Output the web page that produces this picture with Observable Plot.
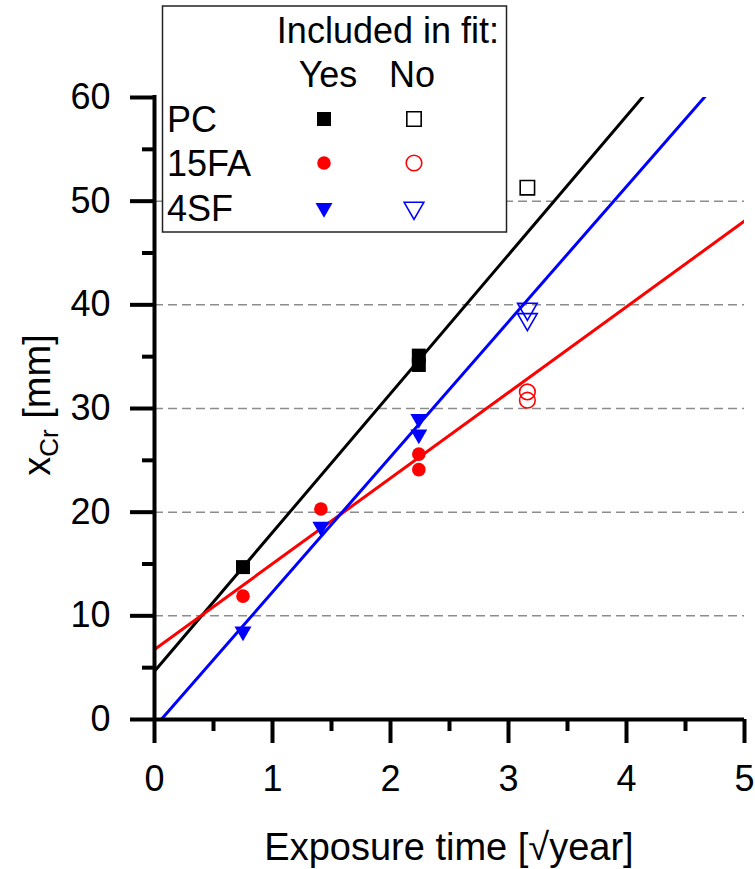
<!DOCTYPE html>
<html><head><meta charset="utf-8">
<script src="https://cdn.jsdelivr.net/npm/d3@7"></script>
<script src="https://cdn.jsdelivr.net/npm/@observablehq/plot@0.6"></script>
<style>html,body{margin:0;padding:0;background:#fff;} svg{display:block;}</style>
</head><body><div id="chart"></div>
<script>
// ---- data ----
const xTicks = [0, 1, 2, 3, 4, 5];
const xMinor = [0.5, 1.5, 2.5, 3.5, 4.5];
const yTicks = [0, 10, 20, 30, 40, 50, 60];
const yMinor = [5, 15, 25, 35, 45, 55];
const gridY = [10, 20, 30, 40, 50];
const xDomain = [0, 5];
const yDomain = [0, 60];

const seriesNames = ["PC", "15FA", "4SF"];
const seriesColors = ["#000000", "#ff0000", "#0000ff"];

// PC
const pcYesX = [0.75, 2.24, 2.24];
const pcYesY = [14.7, 34.2, 35.1];
const pcNoX = [3.16];
const pcNoY = [51.3];
// 15FA
const faYesX = [0.75, 1.41, 2.24, 2.24];
const faYesY = [11.9, 20.3, 25.6, 24.1];
const faNoX = [3.16, 3.16];
const faNoY = [31.6, 30.8];
// 4SF
const sfYesX = [0.75, 1.41, 2.24, 2.24];
const sfYesY = [8.5, 18.6, 29.0, 27.5];
const sfNoX = [3.16, 3.16];
const sfNoY = [39.6, 38.6];

const legendTitle = "Included in fit:";
const legendYes = "Yes";
const legendNo = "No";
const xLabel = "Exposure time [\u221Ayear]";

// ---- helpers ----
const sqrt3 = Math.sqrt(3);
const triDown = {
  draw(ctx, size) {
    const y = -Math.sqrt(size / (sqrt3 * 3));
    ctx.moveTo(0, -y * 2);
    ctx.lineTo(-sqrt3 * y, y);
    ctx.lineTo(sqrt3 * y, y);
    ctx.closePath();
  }
};
const symbols = [d3.symbolSquare, d3.symbolCircle, triDown];
const radiiYes = [7.9, 6.8, 6.3];
const radiiNo = [8.1, 7.8, 7.3];

function fit(xs, ys) {
  const mx = d3.mean(xs), my = d3.mean(ys);
  const sxy = d3.sum(xs, (x, i) => (x - mx) * (ys[i] - my));
  const sxx = d3.sum(xs, x => (x - mx) ** 2);
  const b = sxy / sxx;
  return {a: my - b * mx, b};
}

const yesSets = [[pcYesX, pcYesY], [faYesX, faYesY], [sfYesX, sfYesY]];
const noSets = [[pcNoX, pcNoY], [faNoX, faNoY], [sfNoX, sfNoY]];

const marks = [];
// grid
marks.push(Plot.ruleY(gridY, {x1: xDomain[0], x2: xDomain[1], stroke: "#8c8c8c", strokeWidth: 1.5, strokeDasharray: "9,5"}));
// fit lines
seriesNames.forEach((name, i) => {
  const [xs, ys] = yesSets[i];
  const {a, b} = fit(xs, ys);
  const pts = xDomain.map(x => ({x, y: a + b * x}));
  marks.push(Plot.line(pts, {x: "x", y: "y", stroke: seriesColors[i], strokeWidth: 3, clip: true}));
});
// points
seriesNames.forEach((name, i) => {
  const [xs, ys] = yesSets[i];
  const [nx, ny] = noSets[i];
  const yes = xs.map((x, j) => ({x, y: ys[j]}));
  const no = nx.map((x, j) => ({x, y: ny[j]}));
  marks.push(Plot.dot(yes, {x: "x", y: "y", symbol: symbols[i], r: radiiYes[i], fill: seriesColors[i], stroke: "none"}));
  marks.push(Plot.dot(no, {x: "x", y: "y", symbol: symbols[i], r: radiiNo[i], fill: "none", stroke: seriesColors[i], strokeWidth: 1.6}));
});
// axes
marks.push(Plot.axisX(xTicks, {tickSize: 24, tickPadding: 22, strokeWidth: 4, tickFormat: d3.format("d"), label: null}));
marks.push(Plot.axisX(xMinor, {tickSize: 12, tickFormat: () => "", strokeWidth: 4, label: null}));
marks.push(Plot.axisY(yTicks, {tickSize: 24, tickPadding: 20, strokeWidth: 4, tickFormat: d3.format("d"), label: null}));
marks.push(Plot.axisY(yMinor, {tickSize: 12, tickFormat: () => "", strokeWidth: 4, label: null}));
marks.push(Plot.ruleX([xDomain[0]], {y1: yDomain[0], y2: yDomain[1], strokeWidth: 4, strokeLinecap: "square"}));
marks.push(Plot.ruleY([yDomain[0]], {x1: xDomain[0], x2: xDomain[1], strokeWidth: 4}));

const chart = Plot.plot({
  width: 755,
  height: 869,
  marginTop: 97,
  marginBottom: 150,
  marginLeft: 154,
  marginRight: 11,
  x: {domain: xDomain, label: null},
  y: {domain: yDomain, label: null},
  style: {fontFamily: "'Liberation Sans', Arial, sans-serif", fontSize: "36px", background: "#fff", color: "#000"},
  marks
});

const svg = d3.select(chart);
const font = "'Liberation Sans', Arial, sans-serif";

// axis titles
svg.append("text")
  .attr("x", 449).attr("y", 860)
  .attr("text-anchor", "middle")
  .attr("font-family", font).attr("font-size", 38).attr("fill", "#000")
  .text(xLabel);

const yl = svg.append("text")
  .attr("transform", "translate(50,405) rotate(-90)")
  .attr("text-anchor", "middle")
  .attr("font-family", font).attr("font-size", 38).attr("fill", "#000");
yl.append("tspan").text("x");
yl.append("tspan").attr("font-size", 26).attr("dy", 8).text("Cr");
yl.append("tspan").attr("dy", -8).text(" [mm]");

// legend
const lg = svg.append("g");
lg.append("rect").attr("x", 162.5).attr("y", 6).attr("width", 344).attr("height", 226)
  .attr("fill", "#fff").attr("stroke", "#222").attr("stroke-width", 1.5);
const lt = (x, y, t, anchor = "start") => lg.append("text").attr("x", x).attr("y", y)
  .attr("text-anchor", anchor).attr("font-family", font).attr("font-size", 36).attr("fill", "#000").text(t);
lt(499, 43, legendTitle, "end");
lt(328, 87, legendYes, "middle");
lt(412, 87, legendNo, "middle");
const rowY = [119, 163, 208];
const colX = [324, 414];
seriesNames.forEach((name, i) => {
  lt(167, rowY[i] + 13, name);
  const pathYes = d3.symbol(symbols[i], Math.PI * radiiYes[i] ** 2)();
  const pathNo = d3.symbol(symbols[i], Math.PI * radiiNo[i] ** 2)();
  lg.append("path").attr("d", pathYes).attr("transform", `translate(${colX[0]},${rowY[i]})`)
    .attr("fill", seriesColors[i]);
  lg.append("path").attr("d", pathNo).attr("transform", `translate(${colX[1]},${rowY[i]})`)
    .attr("fill", "none").attr("stroke", seriesColors[i]).attr("stroke-width", 1.6);
});

document.getElementById("chart").appendChild(chart);
</script>
</body></html>
